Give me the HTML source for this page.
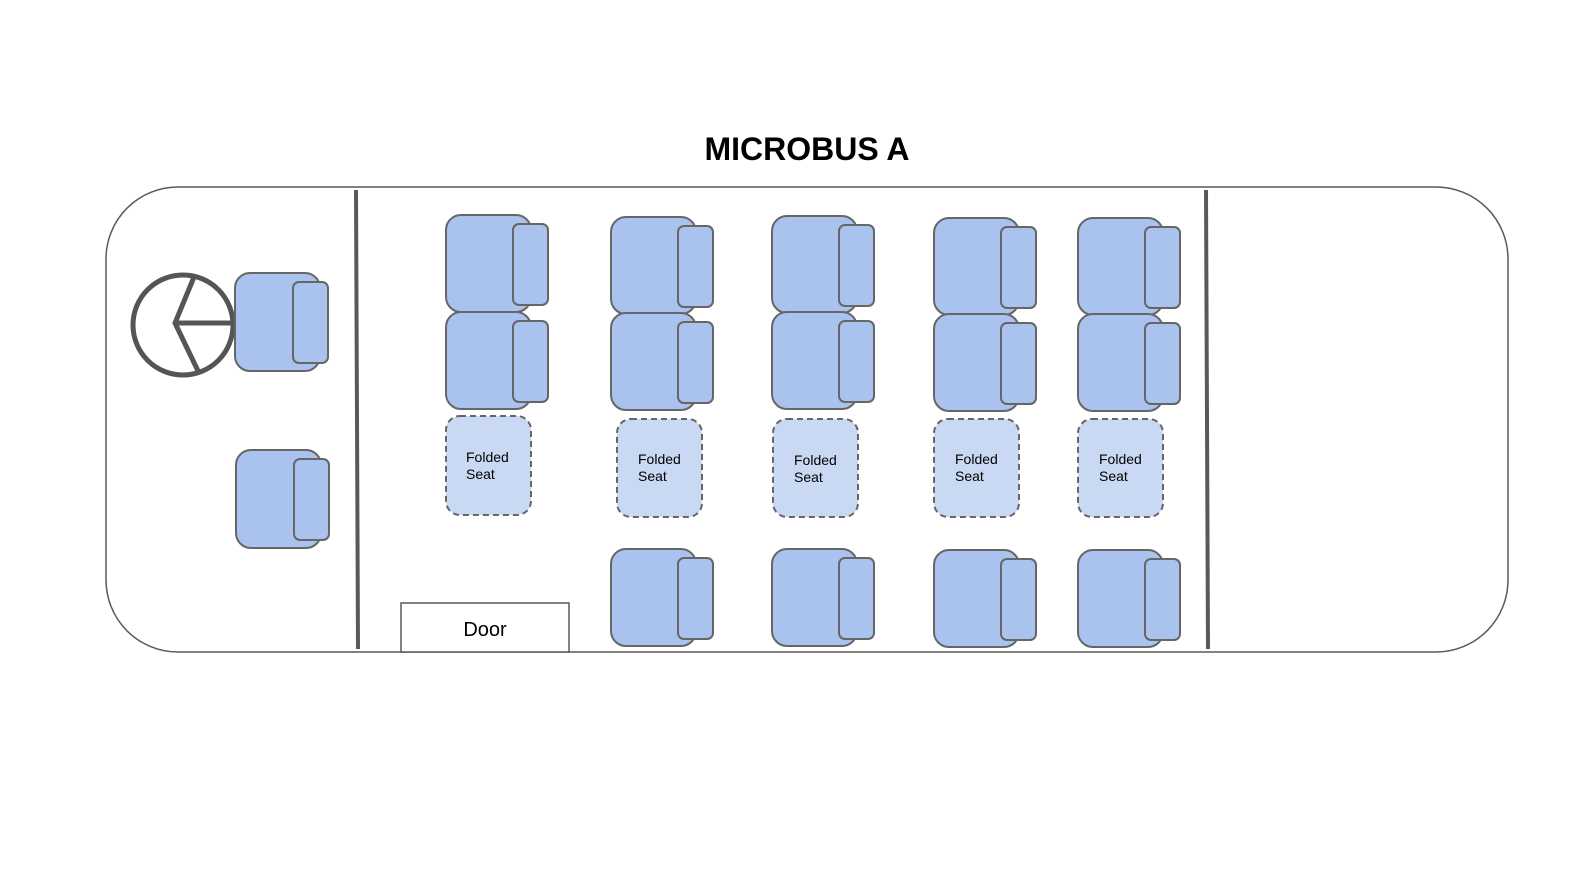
<!DOCTYPE html>
<html><head><meta charset="utf-8"><style>html,body{margin:0;padding:0;background:#fff}svg{display:block}</style></head>
<body>
<svg width="1574" height="878" viewBox="0 0 1574 878" xmlns="http://www.w3.org/2000/svg" font-family="Liberation Sans, sans-serif">
<defs>
<g id="seat">
<rect x="0" y="0" width="85" height="97" rx="15" fill="#a9c2ee" stroke="#666" stroke-width="2"/>
<rect x="67" y="9" width="35" height="81" rx="6" fill="#a9c2ee" stroke="#666" stroke-width="2"/>
</g>
<g id="dseat">
<rect x="0" y="0" width="85" height="98" rx="15" fill="#a9c2ee" stroke="#666" stroke-width="2"/>
<rect x="58" y="9" width="35" height="81" rx="6" fill="#a9c2ee" stroke="#666" stroke-width="2"/>
</g>
</defs>
<text x="807" y="160" text-anchor="middle" font-size="32" font-weight="bold" fill="#000">MICROBUS A</text>
<rect x="106" y="187" width="1402" height="465" rx="72" fill="#fff" stroke="#595959" stroke-width="1.5"/>
<line x1="356" y1="190" x2="358" y2="649" stroke="#595959" stroke-width="4"/>
<line x1="1206" y1="190" x2="1208" y2="649" stroke="#595959" stroke-width="4"/>
<rect x="401" y="603" width="168" height="49" fill="#fff" stroke="#595959" stroke-width="1.5"/>
<text x="485" y="636" text-anchor="middle" font-size="20" fill="#000">Door</text>
<circle cx="183" cy="325" r="50" fill="none" stroke="#555" stroke-width="5"/>
<polyline points="194,277 175,323 199,373" fill="none" stroke="#555" stroke-width="5" stroke-linejoin="miter"/>
<line x1="175" y1="323" x2="232" y2="323" stroke="#555" stroke-width="5"/>
<use href="#dseat" x="235" y="273"/>
<use href="#dseat" x="236" y="450"/>
<use href="#seat" x="446" y="215"/><use href="#seat" x="446" y="312"/>
<use href="#seat" x="611" y="217"/><use href="#seat" x="611" y="313"/><use href="#seat" x="611" y="549"/>
<use href="#seat" x="772" y="216"/><use href="#seat" x="772" y="312"/><use href="#seat" x="772" y="549"/>
<use href="#seat" x="934" y="218"/><use href="#seat" x="934" y="314"/><use href="#seat" x="934" y="550"/>
<use href="#seat" x="1078" y="218"/><use href="#seat" x="1078" y="314"/><use href="#seat" x="1078" y="550"/>
<g fill="#c9d9f4" stroke="#666" stroke-width="2" stroke-dasharray="6,4">
<rect x="446" y="416" width="85" height="99" rx="14"/>
<rect x="617" y="419" width="85" height="98" rx="14"/>
<rect x="773" y="419" width="85" height="98" rx="14"/>
<rect x="934" y="419" width="85" height="98" rx="14"/>
<rect x="1078" y="419" width="85" height="98" rx="14"/>
</g>
<g font-size="14" fill="#000">
<text x="466" y="462">Folded</text><text x="466" y="479">Seat</text>
<text x="638" y="464">Folded</text><text x="638" y="481">Seat</text>
<text x="794" y="465">Folded</text><text x="794" y="482">Seat</text>
<text x="955" y="464">Folded</text><text x="955" y="481">Seat</text>
<text x="1099" y="464">Folded</text><text x="1099" y="481">Seat</text>
</g>
</svg>
</body></html>
